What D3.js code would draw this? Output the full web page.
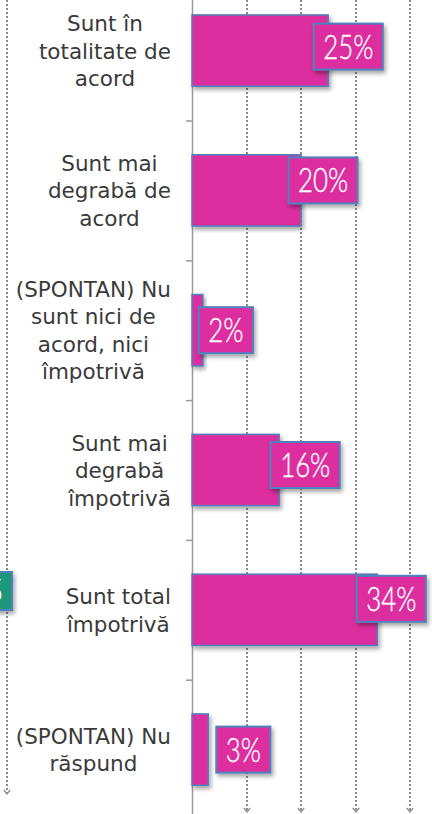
<!DOCTYPE html>
<html><head><meta charset="utf-8">
<script src="https://cdn.jsdelivr.net/npm/d3@7"></script>
<style>html,body{margin:0;padding:0;background:#fff;overflow:hidden}</style>
</head><body>
<svg id="c" width="432" height="814"></svg>
<script>
const categories = ["Sunt în\ntotalitate de\nacord", "Sunt mai\ndegrabă de\nacord", "(SPONTAN) Nu\nsunt nici de\nacord, nici\nîmpotrivă", "Sunt mai\ndegrabă\nîmpotrivă", "Sunt total\nîmpotrivă", "(SPONTAN) Nu\nrăspund"];
const values = [25, 20, 2, 16, 34, 3];
const valueLabels = ["25%", "20%", "2%", "16%", "34%", "3%"];
const gridValues = [10, 20, 30, 40];
const neighbourLabel = "5";

// layout (not data)
const labelDx = [20, 22, 23, 26, 14, 35];
const labelDy = [-4, -10, 0, -5, -11, 0];

const svg = d3.select("#c");
const defs = svg.append("defs");
const f = defs.append("filter").attr("id","sh").attr("x","-20%").attr("y","-20%").attr("width","150%").attr("height","160%");
f.append("feDropShadow").attr("dx",2).attr("dy",3).attr("stdDeviation",2).attr("flood-color","#000").attr("flood-opacity",0.35);
defs.append("marker").attr("id","chev").attr("viewBox","0 0 10 10").attr("refX",8).attr("refY",5)
  .attr("markerWidth",8).attr("markerHeight",8).attr("markerUnits","userSpaceOnUse").attr("orient","auto")
  .append("path").attr("d","M3,1 L8,5 L3,9").attr("fill","none").attr("stroke","#8a8a8a").attr("stroke-width",1.6);

const x = d3.scaleLinear().domain([0, 40]).range([192, 410]);
const y = d3.scaleBand().domain(categories).range([-19.3, 819.5]).paddingInner(0.49).paddingOuter(0.245);
const yEdge = d3.scaleLinear().domain([0, categories.length]).range([-19.3, 819.5]);

const dotted = sel => sel.attr("stroke","#8a8a8a").attr("stroke-width",2).attr("stroke-dasharray","2,2").attr("marker-end","url(#chev)");

// neighbour panel remnants
svg.append("line").attr("x1",7).attr("x2",7).attr("y1",0).attr("y2",794).call(dotted);

// gridlines
svg.append("g").selectAll("line").data(gridValues).join("line")
  .attr("x1", d => Math.round(x(d))).attr("x2", d => Math.round(x(d))).attr("y1", 0).attr("y2", 812)
  .call(dotted);

// axis
const ax = svg.append("g").attr("transform",`translate(${x(0)},0)`)
  .call(d3.axisLeft(yEdge).tickValues(d3.range(1, categories.length)).tickSize(6).tickSizeOuter(0).tickFormat(""));
ax.selectAll("path,line").attr("stroke","#9a9a9a").attr("stroke-width",1.5);

// neighbour green label box
const ng = svg.append("g");
ng.append("rect").attr("x",-60).attr("y",572).attr("width",72).attr("height",38)
  .attr("fill","#1d977a").attr("stroke","#4f81bd").attr("stroke-width",2).attr("filter","url(#sh)");
ng.append("text").attr("x",4).attr("y",603).attr("text-anchor","end").attr("fill","#fff")
  .attr("font-family","Lato, sans-serif").attr("font-size",34).attr("font-weight",300).text(neighbourLabel);

// bars
svg.append("g").selectAll("rect").data(values).join("rect")
  .attr("x", x(0)).attr("y", (d,i) => y(categories[i]))
  .attr("width", d => x(d) - x(0)).attr("height", y.bandwidth())
  .attr("fill","#dc2f9e").attr("stroke","#4f81bd").attr("stroke-width",1.5).attr("filter","url(#sh)");

// category labels
const lg = svg.append("g");
categories.forEach((c, i) => {
  const lines = c.split("\n");
  const cy = y(c) + y.bandwidth()/2;
  const t = lg.append("text").attr("font-family","'DejaVu Sans', sans-serif").attr("font-size",21.5).attr("fill","#3a3a3a")
    .attr("text-anchor","middle");
  lines.forEach((l, j) => {
    t.append("tspan").attr("x",0).attr("y", cy + (j - (lines.length-1)/2)*27.5 + 8).text(l);
  });
  let wmax = 0;
  t.selectAll("tspan").each(function(){ wmax = Math.max(wmax, this.getComputedTextLength()); });
  t.selectAll("tspan").attr("x", 171 - wmax/2);
});

// value labels
const vg = svg.append("g");
values.forEach((v, i) => {
  const cx = x(v) + labelDx[i];
  const cy = y(categories[i]) + y.bandwidth()/2 + labelDy[i];
  const g = vg.append("g").attr("transform",`translate(${cx},${cy})`);
  const r = g.append("rect");
  const t = g.append("text").attr("text-anchor","middle").attr("y",12).attr("fill","#fff")
    .attr("stroke","#fff").attr("stroke-width",0.4)
    .attr("font-family","Lato, sans-serif").attr("font-size",34).attr("font-weight",300)
    .attr("transform","scale(0.76,1)").text(valueLabels[i]);
  const tw = t.node().getComputedTextLength()*0.76;
  r.attr("x", -(tw+19)/2).attr("y",-23).attr("width", tw+19).attr("height",46)
    .attr("fill","#dc2f9e").attr("stroke","#4f81bd").attr("stroke-width",2).attr("filter","url(#sh)");
  t.raise();
});
</script>
</body></html>
